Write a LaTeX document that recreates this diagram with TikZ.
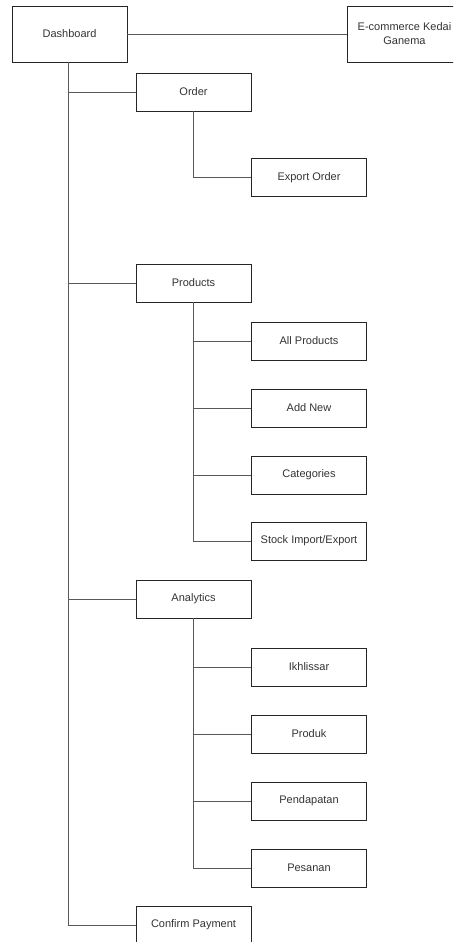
\documentclass[tikz,border=0pt]{standalone}
\usepackage{fontspec}
\setmainfont{Liberation Sans}
\begin{document}
\begin{tikzpicture}[x=1pt,y=-1pt,
  box/.style={draw=black!85, line width=0.8pt, minimum width=115pt, minimum height=38pt,
    inner sep=1pt, font=\fontsize{11}{14}\selectfont, text=black!80, align=center},
  bigbox/.style={box, minimum height=56pt},
  conn/.style={draw=black!65, line width=0.8pt}]
\useasboundingbox (0,0) rectangle (453,942);
\clip (0,0) rectangle (453,942);
\node[bigbox] (dash) at (69.5,34) {Dashboard};
\node[bigbox] (ecom) at (404.5,34) {E-commerce Kedai\\Ganema};
\node[box] (order) at (193.5,92) {Order};
\node[box] (export) at (309,177.5) {Export Order};
\node[box] (products) at (193.5,283) {Products};
\node[box] (allp) at (309,341) {All Products};
\node[box] (addnew) at (309,408) {Add New};
\node[box] (cat) at (309,475) {Categories};
\node[box] (stock) at (309,541) {Stock Import/Export};
\node[box] (analytics) at (193.5,599) {Analytics};
\node[box] (ikh) at (309,667) {Ikhlissar};
\node[box] (produk) at (309,734) {Produk};
\node[box] (pend) at (309,801) {Pendapatan};
\node[box] (pes) at (309,868) {Pesanan};
\node[box] (confirm) at (193.5,925) {Confirm Payment};
% header connector
\draw[conn] (dash.east) -- (ecom.west);
% trunk
\coordinate (trunk) at ([xshift=-1pt]dash.south);
\draw[conn] (trunk) |- (confirm.west);
\draw[conn] (trunk |- order.west) -- (order.west);
\draw[conn] (trunk |- products.west) -- (products.west);
\draw[conn] (trunk |- analytics.west) -- (analytics.west);
% order
\draw[conn] (order.south) |- (export.west);
% products
\draw[conn] (products.south) |- (stock.west);
\draw[conn] (products.south |- allp.west) -- (allp.west);
\draw[conn] (products.south |- addnew.west) -- (addnew.west);
\draw[conn] (products.south |- cat.west) -- (cat.west);
% analytics
\draw[conn] (analytics.south) |- (pes.west);
\draw[conn] (analytics.south |- ikh.west) -- (ikh.west);
\draw[conn] (analytics.south |- produk.west) -- (produk.west);
\draw[conn] (analytics.south |- pend.west) -- (pend.west);
\end{tikzpicture}
\end{document}
